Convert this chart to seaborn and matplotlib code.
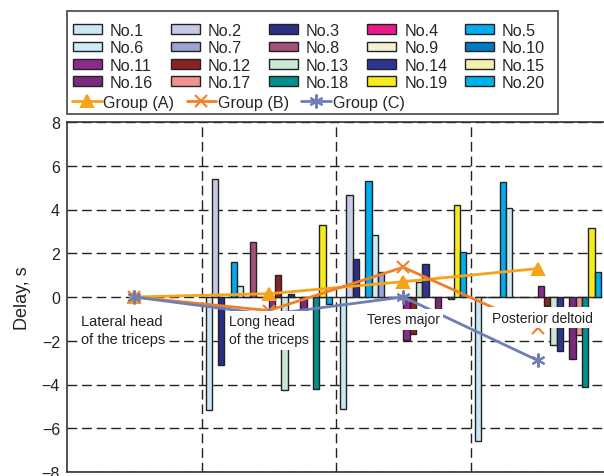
import numpy as np
import pandas as pd
import matplotlib
matplotlib.use("Agg")
import matplotlib.pyplot as plt
from matplotlib.lines import Line2D
from matplotlib.patches import Rectangle
import seaborn as sns

# ---------------- data ----------------
muscles = ["Lateral head of the triceps", "Long head of the triceps",
           "Teres major", "Posterior deltoid"]
muscle_labels = ["Lateral head\nof the triceps", "Long head\nof the triceps",
                 "Teres major", "Posterior deltoid"]
subjects = [f"No.{i}" for i in range(1, 21)]

long_head = [-5.15, 5.4, -3.1, 0, 1.6, 0.5, 0, 2.5, 0, 0,
             -0.5, 1.0, -4.25, 0.13, 0, -0.6, 0, -4.2, 3.3, -0.3]
teres_major = [-5.1, 4.65, 1.75, 0, 5.3, 2.85, 1.15, 0, 0, 0,
               -1.95, -1.7, 0.7, 1.5, 0, -1.3, 0, -0.1, 4.2, 2.05]
posterior_deltoid = [-6.6, 0, 0, 0, 5.25, 4.05, 0, 0, 0, 0,
                     0.5, -0.4, -2.2, -2.45, 0, -2.85, -1.75, -4.1, 3.15, 1.15]

group_a = [0, 0.15, 0.7, 1.3]
group_b = [0, -0.62, 1.36, -1.4]
group_c = [0, -0.8, 0.0, -2.9]
group_names = ["Group (A)", "Group (B)", "Group (C)"]

subject_colors = ["#C9E8F4", "#C6CAE6", "#2B2F84", "#E8198B", "#00AEEF",
                  "#CDEBF5", "#9BA3D4", "#A3507A", "#F3F2D6", "#0079C1",
                  "#8E2A8E", "#8B2324", "#C9E6D6", "#2E3590", "#F4F0B0",
                  "#7B2A7B", "#F0938F", "#00918F", "#F5EB1E", "#00B0EC"]
group_colors = ["#F5A31A", "#F07F2A", "#6F7FB5"]

yticks = [-8, -6, -4, -2, 0, 2, 4, 6, 8]

# ---------------- build table ----------------
rows = []
for m, vals in zip(muscles[1:], [long_head, teres_major, posterior_deltoid]):
    for s, v in zip(subjects, vals):
        rows.append({"muscle": m, "subject": s, "delay": v})
df = pd.DataFrame(rows)

sns.set_theme(style="white")
plt.rcParams["font.family"] = ["Liberation Sans", "DejaVu Sans"]

W, H = 604, 477
fig = plt.figure(figsize=(W / 100, H / 100), dpi=100)
ax = fig.add_axes([67 / W, (H - 473) / H, 538 / W, 350 / H])

sns.barplot(data=df, x="muscle", y="delay", hue="subject", order=muscles,
            hue_order=subjects, palette=subject_colors, width=0.94, saturation=1,
            edgecolor="#222222", linewidth=1.0, errorbar=None, ax=ax,
            legend=False, zorder=2)

xpos = np.arange(len(muscles))
markers = ["^", "x", (6, 2, 0)]
msizes = [9, 8, 10]
for vals, col, mk, ms in zip([group_a, group_b, group_c], group_colors, markers, msizes):
    ax.plot(xpos, vals, color=col, lw=2.0, marker=mk, markersize=ms,
            markeredgewidth=1.5, zorder=4)

ax.set_xlim(-0.5, len(muscles) - 0.5)
ax.set_ylim(-8, 8)
ax.set_yticks(yticks)
ax.set_yticklabels([f"{t}".replace("-", "\u2212") for t in yticks], fontsize=11.5)
ax.set_xticks([])
ax.set_xticks(xpos[:-1] + 0.5, minor=True)
ax.tick_params(axis="x", which="both", length=0, labelbottom=False)
ax.tick_params(axis="y", direction="in", length=5, width=1, pad=5, colors="#222")
ax.set_xlabel("")
ax.set_ylabel("Delay, s", fontsize=13, color="#222", labelpad=8)
ax.set_axisbelow(True)
ax.grid(axis="y", which="major", color="#222", lw=1.0, ls=(0, (7, 3.5)))
ax.grid(axis="x", which="minor", color="#222", lw=1.0, ls=(0, (7, 3.5)))
for sp in ax.spines.values():
    sp.set_color("#333")
    sp.set_linewidth(1.2)

# muscle labels
label_offsets = [(0.105, -0.8), (0.205, -0.8), (0.228, -0.7), (0.16, -0.62)]
label_sizes = [10.5, 10, 10, 10]
for i, (lab, (dx, yv), fs) in enumerate(zip(muscle_labels, label_offsets, label_sizes)):
    ax.text(i - 0.5 + dx, yv, lab, ha="left", va="top", fontsize=fs,
            color="#222", linespacing=1.35, zorder=6,
            bbox=dict(facecolor="white", edgecolor="none", pad=2.5))

# legends
bar_handles = [Rectangle((0, 0), 1, 1, facecolor=c, edgecolor="#222", lw=1.0)
               for c in subject_colors]
ncol = 5
nrow = 4
order = [r * ncol + c for c in range(ncol) for r in range(nrow)]
leg1 = fig.legend([bar_handles[k] for k in order], [subjects[k] for k in order],
                  ncol=ncol, loc="upper left", bbox_to_anchor=(73 / W, 1 - 24 / H),
                  frameon=False, fontsize=11.6, borderpad=0, borderaxespad=0,
                  handlelength=1.8, handleheight=0.55, handletextpad=0.5,
                  columnspacing=1.1, labelspacing=0.14)
line_handles = [Line2D([0], [0], color=c, lw=2.0, marker=mk, markersize=ms, markeredgewidth=1.5)
                for c, mk, ms in zip(group_colors, markers, msizes)]
leg2 = fig.legend(line_handles, group_names, ncol=3, loc="upper left",
                  bbox_to_anchor=(72 / W, 1 - 96 / H), frameon=False, fontsize=11.6,
                  borderpad=0, borderaxespad=0, handlelength=1.85, handletextpad=0.1,
                  columnspacing=0.75)
fig.add_artist(Rectangle((67 / W, 1 - 115 / H), (558 - 67) / W, 103 / H,
                         transform=fig.transFigure, fill=False, edgecolor="#444", lw=1.2))

fig.savefig("out.png", dpi=100)
